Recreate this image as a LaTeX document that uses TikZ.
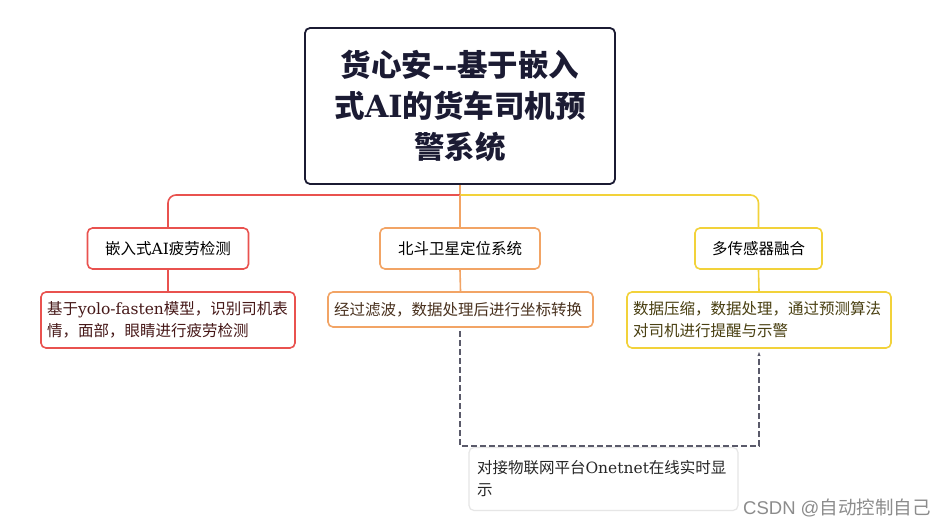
\documentclass[tikz,border=0pt]{standalone}
\usepackage{fontspec}
\setmainfont{Noto Sans CJK SC}
\newfontfamily\lat{DejaVu Serif}
\usetikzlibrary{arrows.meta}
\definecolor{cred}{HTML}{E9524F}
\definecolor{cora}{HTML}{F2A465}
\definecolor{cyel}{HTML}{F2D23A}
\definecolor{cnavy}{HTML}{1B1B33}
\definecolor{cgrayb}{HTML}{E6E6E6}
\definecolor{cdash}{HTML}{5A5A6A}
\tikzset{
  box/.style={draw, line width=1.6pt, rounded corners=5pt, fill=white, inner sep=0pt},
  branch/.style={box, minimum height=41pt, font=\fontsize{15.5}{18}\selectfont},
  sub/.style={box, font=\fontsize{15.5}{22}\selectfont, align=left, inner sep=6pt},
  link/.style={line width=1.6pt}
}
\begin{document}
\begin{tikzpicture}[x=1pt,y=-1pt]
\useasboundingbox (0,0) rectangle (948,527);
\fill[white] (0,0) rectangle (948,527);
% title
\node[box, draw=cnavy, line width=1.8pt, minimum width=310pt, minimum height=156pt,
  align=center, font=\bfseries\fontsize{30.5}{41}\selectfont, text=cnavy]
  (title) at (460,106) {货心安{\lat\bfseries -{}-}基于嵌入\\式{\lat\bfseries AI}的货车司机预\\警系统};
\coordinate (j) at (460,195);
% branches
\node[branch, draw=cred, minimum width=161pt] (n1) at (168,248.5) {嵌入式{\lat AI}疲劳检测};
\node[branch, draw=cora, minimum width=160pt] (n2) at (460,248.5) {北斗卫星定位系统};
\node[branch, draw=cyel, minimum width=127pt] (n3) at (758.5,248.5) {多传感器融合};
% subs
\node[sub, draw=cred, text=black!70!cred, minimum width=254pt, minimum height=56pt, text width=242pt]
  (s1) at (168,320) {基于{\lat yolo-fasten}模型，识别司机表\\情，面部，眼睛进行疲劳检测};
\node[sub, draw=cora, text=black!70!cora, minimum width=265pt, minimum height=35pt, text width=253pt]
  (s2) at (460.5,309.5) {经过滤波，数据处理后进行坐标转换};
\node[sub, draw=cyel, text=black!70!cyel, minimum width=264pt, minimum height=56pt, text width=252pt]
  (s3) at (759,320) {数据压缩，数据处理，通过预测算法\\对司机进行提醒与示警};
% onetnet
\node[sub, draw=cgrayb, line width=1.2pt, text=black!85, minimum width=269pt, minimum height=63pt, text width=253pt, inner sep=8pt]
  (on) at (603.5,479) {对接物联网平台{\lat Onetnet}在线实时显\\示};
% connectors
\draw[link, cora] (title.south) -- (j);
\draw[link, cred, rounded corners=8pt] (j) -| (n1.north);
\draw[link, cyel, rounded corners=8pt] (j) -| (n3.north);
\draw[link, cora] (j) -- (n2.north);
\draw[link, cred] (n1.south) -- (s1.north);
\draw[link, cora] (n2.south) -- (s2.south |- s2.north);
\draw[link, cyel] (n3.south) -- (s3.north);
% dashed link
\coordinate (d1) at (460,331);
\coordinate (d2) at (759,352);
\draw[cdash, line width=1.2pt, dash pattern=on 6pt off 3pt, -{Stealth[length=4pt,width=3pt]}]
  (d1) |- (759,446) -- (d2);
% watermark
\node[anchor=west, text=black!45, font=\fontsize{18.5}{20}\selectfont, inner sep=0pt] (wm) at (743,508) {{\fontspec{Liberation Sans}CSDN @}自动控制自己};
\end{tikzpicture}
\end{document}
